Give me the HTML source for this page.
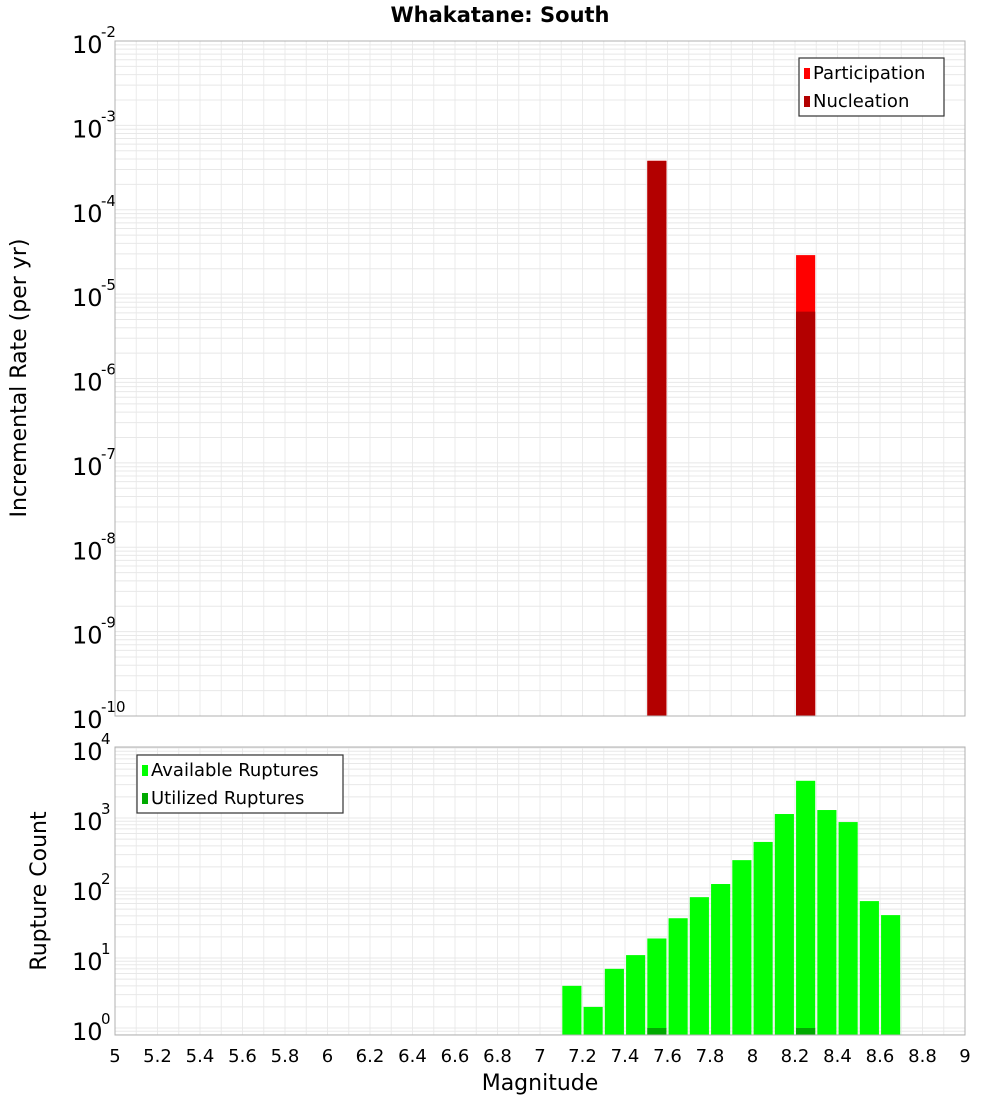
<!DOCTYPE html>
<html><head><meta charset="utf-8"><style>
body{margin:0;background:#fff;}
svg text{font-family:"DejaVu Sans","Liberation Sans",sans-serif;}
</style></head><body>
<svg id="chart" width="1000" height="1100" xmlns="http://www.w3.org/2000/svg">
<text x="500" y="22" text-anchor="middle" font-size="21" font-weight="bold">Whakatane: South</text>
<g id="top"></g><g id="bot"></g>
<text transform="translate(26,378) rotate(-90)" text-anchor="middle" font-size="22">Incremental Rate (per yr)</text>
<text transform="translate(46,891) rotate(-90)" text-anchor="middle" font-size="22">Rupture Count</text>
<text x="540" y="1090" text-anchor="middle" font-size="22">Magnitude</text>
</svg>
<script>
const rateMags=[7.55,8.25];
const participation=[3.8e-4,2.9e-5];
const nucleation=[3.8e-4,6.2e-6];
const countMags=[7.15,7.25,7.35,7.45,7.55,7.65,7.75,7.85,7.95,8.05,8.15,8.25,8.35,8.45,8.55,8.65];
const available=[4,2,7,11,19,37,74,114,250,455,1140,3400,1300,875,65,41];
const utilized=[0,0,0,0,1,0,0,0,0,0,0,1,0,0,0,0];
const xTicks=[5,5.2,5.4,5.6,5.8,6,6.2,6.4,6.6,6.8,7,7.2,7.4,7.6,7.8,8,8.2,8.4,8.6,8.8,9];

const NS="http://www.w3.org/2000/svg";
const X0=115,X1=965;
const xs=m=>X0+(m-5)/4*(X1-X0);
const yTop=v=>41+(-2-Math.log10(v))*(675/8);
const yBot=v=>748+(4-Math.log10(v))*70;
function mk(p,t,a){const e=document.createElementNS(NS,t);for(const k in a)e.setAttribute(k,a[k]);p.appendChild(e);return e;}

function panel(g,top,bot,ys,eMin,eMax,name){
  mk(g,'rect',{x:X0,y:top,width:X1-X0,height:bot-top,fill:'#fff'});
  for(let m=5;m<=9.001;m+=0.1){const x=xs(m);
    const l=mk(g,'line',{x1:x,x2:x,y1:top,y2:bot,stroke:'#ebebeb','stroke-width':1});
    
    }
  for(let e=eMin-1;e<=eMax;e++)for(let k=1;k<10;k++){const y=ys(k*Math.pow(10,e));
    if(y<top-0.5||y>bot+0.5)continue;
    const l=mk(g,'line',{x1:X0,x2:X1,y1:y,y2:y,stroke:'#e8e8e8','stroke-width':1});
    
    }
  for(let e=eMin;e<=eMax;e++){const y=ys(Math.pow(10,e));
    const t=mk(g,'text',{x:72,y:y+12,'font-size':24});
    
    
    t.textContent='10';
    const s=mk(g,'text',{x:101,y:y-4,'font-size':15});
    
    
    s.textContent=String(e);}
}
const gt=document.getElementById('top'),gb=document.getElementById('bot');
panel(gt,41,716,yTop,-10,-2,'top');
panel(gb,747,1035,yBot,0,4,'bot');

const bw=0.09*(X1-X0)/4;
rateMags.forEach((m,i)=>{
  const x=xs(m)-bw/2;
  const r=mk(gt,'rect',{x:x,y:yTop(participation[i]),width:bw,height:716-yTop(participation[i]),fill:'#ff0000'});
  
  
  const n=mk(gt,'rect',{x:x,y:yTop(nucleation[i]),width:bw,height:716-yTop(nucleation[i]),fill:'#b30000'});
  
  
});
countMags.forEach((m,i)=>{
  const x=xs(m)-bw/2;
  const r=mk(gb,'rect',{x:x,y:yBot(available[i]),width:bw,height:1035-yBot(available[i]),fill:'#00ff00'});
  
  
  if(utilized[i]>0){
    const u=mk(gb,'rect',{x:x,y:yBot(utilized[i]),width:bw,height:1035-yBot(utilized[i]),fill:'#00aa00'});
    
    }
});
mk(gt,'rect',{x:X0,y:41,width:X1-X0,height:675,fill:'none',stroke:'#b0b0b0'});
mk(gb,'rect',{x:X0,y:747,width:X1-X0,height:288,fill:'none',stroke:'#b0b0b0'});
xTicks.forEach(m=>{
  const t=mk(gb,'text',{x:xs(m),y:1062,'text-anchor':'middle','font-size':18});
  
  
  t.textContent=String(m);
});
function legend(g,x,y,w,items){
  const b=mk(g,'rect',{x:x,y:y,width:w,height:58,fill:'#fff',stroke:'#333','stroke-width':1.2});
  
  
  items.forEach((it,i)=>{
    mk(g,'rect',{x:x+5,y:y+10+i*28,width:6,height:11,fill:it[1]});
    const t=mk(g,'text',{x:x+14,y:y+21+i*28,'font-size':18});
    
    
    t.textContent=it[0];
  });
}
legend(gt,799,58,145,[['Participation','#ff0000'],['Nucleation','#b30000']]);
legend(gb,137,755,206,[['Available Ruptures','#00ff00'],['Utilized Ruptures','#00aa00']]);
</script>
</body></html>
